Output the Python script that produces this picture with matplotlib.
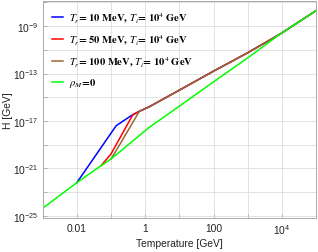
import numpy as np
import matplotlib.pyplot as plt
from matplotlib.ticker import FixedLocator, FixedFormatter, NullFormatter

plt.rcParams['mathtext.fontset'] = 'stix'

# log10(T/GeV) and log10(H/GeV)
# rho_M = 0 (pure radiation)
green_logT = [-3.0, -2.0, -1.29, -1.0, 0.12, 1.0, 2.0, 3.0, 3.95, 5.0]
green_logH = [-24.35, -22.2, -20.76, -20.2, -17.53, -15.75, -13.7, -11.68, -9.67, -7.7]

# shared upper branch (matter domination until T_i = 10^4 GeV)
upper_logT = [-0.17, 0.12, 1.0, 2.0, 3.0, 3.95, 5.0]
upper_logH = [-16.18, -15.8, -14.4, -12.8, -11.25, -9.67, -7.7]

blue_logT = [-2.0, -0.85, -0.41] + upper_logT
blue_logH = [-22.2, -17.4, -16.55] + upper_logH

red_logT = [-1.29, -1.0, -0.36] + upper_logT
red_logH = [-20.76, -19.78, -16.47] + upper_logH

brown_logT = [-1.0, -0.85] + upper_logT
brown_logH = [-20.2, -19.5] + upper_logH

labels = [r'$T_r$= 10 MeV, $T_i$= 10$^4$ GeV',
          r'$T_r$= 50 MeV, $T_i$= 10$^4$ GeV',
          r'$T_r$= 100 MeV, $T_i$= 10$^4$ GeV',
          r'$\rho_M$=0']

fig = plt.figure(figsize=(3.18, 2.53), dpi=100)
ax = fig.add_axes([0.134, 0.133, 0.86, 0.86])

p = lambda v: 10.0 ** np.array(v)
ax.plot(p(blue_logT), p(blue_logH), color=(0, 0, 1), lw=1.1, label=labels[0])
ax.plot(p(red_logT), p(red_logH), color=(1, 0, 0), lw=1.1, label=labels[1])
ax.plot(p(brown_logT), p(brown_logH), color=(0.6, 0.4, 0.2), lw=1.1, label=labels[2])
ax.plot(p(green_logT), p(green_logH), color=(0, 1, 0), lw=1.1, label=labels[3])

ax.set_xscale('log')
ax.set_yscale('log')
ax.set_xlim(1e-3, 1e5)
ax.set_ylim(10 ** -25.2, 10 ** -6.87)

xt = [1e-2, 1, 1e2, 1e4]
ax.xaxis.set_major_locator(FixedLocator(xt))
ax.xaxis.set_major_formatter(FixedFormatter(['0.01', '1', '100', r'$\mathregular{10^4}$']))
ax.xaxis.set_minor_locator(FixedLocator([10.0 ** k for k in range(-3, 6)]))
ax.xaxis.set_minor_formatter(NullFormatter())

yt = [10.0 ** k for k in [-25, -21, -17, -13, -9]]
ax.yaxis.set_major_locator(FixedLocator(yt))
ax.yaxis.set_major_formatter(FixedFormatter([r'$\mathregular{10^{%d}}$' % k for k in [-25, -21, -17, -13, -9]]))
ax.yaxis.set_minor_locator(FixedLocator([10.0 ** k for k in range(-25, -6, 2)]))
ax.yaxis.set_minor_formatter(NullFormatter())

ax.grid(True, which='both', color='#dddddd', lw=0.6)
ax.set_axisbelow(True)
for s in ax.spines.values():
    s.set_color('#aaaaaa')
    s.set_linewidth(0.7)
ax.tick_params(which='both', direction='in', colors='#aaaaaa', length=3, width=0.6,
               labelsize=7.4, labelcolor='#222222', pad=3)
for t in ax.get_xticklabels() + ax.get_yticklabels():
    t.set_fontfamily('Liberation Sans')

ax.set_xlabel('Temperature [GeV]', fontsize=7.4, family='Liberation Sans', color='#222222', labelpad=1)
ax.set_ylabel('H [GeV]', fontsize=7.4, family='Liberation Sans', color='#222222', labelpad=0)

leg = ax.legend(loc='upper left', frameon=False, handlelength=1.0, labelspacing=0.7,
                handletextpad=0.6, borderaxespad=0.5,
                prop={'family': 'STIXGeneral', 'weight': 'bold', 'size': 7.6})

fig.savefig('out.png', dpi=100)
